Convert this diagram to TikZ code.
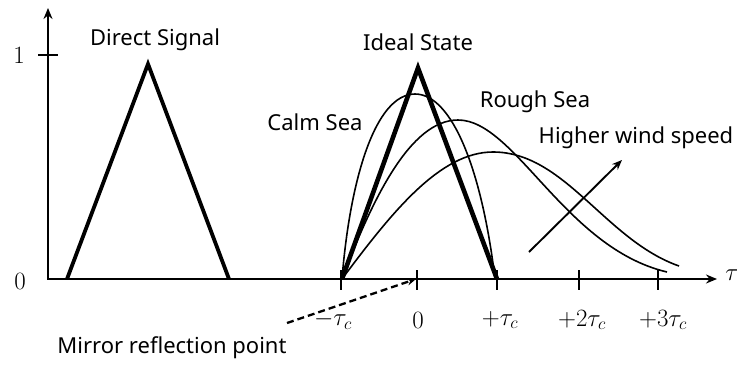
\documentclass[tikz,border=0pt]{standalone}
\usepackage{fontspec}
\newfontfamily\lab{Noto Sans}
\usetikzlibrary{arrows.meta}
\tikzset{
  axis/.style={line width=2.8pt,-{Stealth[length=11pt,width=9pt]}},
  tick/.style={line width=2pt},
  tri/.style={line width=3.8pt,line join=miter},
  ideal/.style={line width=4.6pt,line join=miter},
  curve/.style={line width=1.6pt},
  txt/.style={font=\lab\fontsize{22}{26}\selectfont,inner sep=0pt},
  mth/.style={font=\fontsize{26}{30}\selectfont,inner sep=0pt},
}
\begin{document}
\begin{tikzpicture}[x=1pt,y=-1pt]
\useasboundingbox (0,0) rectangle (737,365);
% axes
\coordinate (O) at (48,279);
\coordinate (ytop) at (48,8);
\coordinate (xend) at (717,279);
\draw[axis] (O) -- (ytop);
\draw[axis] (47,279) -- (xend);
\draw[tick] (38,55) -- (58,55);
\foreach \x in {341,417,497,579,658}{\draw[tick] (\x,270) -- (\x,290);}
% axis labels
\node[mth] (one) at (19,55) {$1$};
\node[mth] (zero) at (20,281) {$0$};
\node[mth] (tau) at (732,275) {$\tau$};
\node[mth] (lm) at (333,320) {$-\tau_c$};
\node[mth] (l0) at (418,320) {$0$};
\node[mth] (l1) at (500,320) {$+\tau_c$};
\node[mth] (l2) at (582,320) {$+2\tau_c$};
\node[mth] (l3) at (663,320) {$+3\tau_c$};
% direct signal
\draw[tri] (67,279) -- (148,64) -- (229,279);
% ideal state
\draw[ideal] (342,279) -- (418,68) -- (497,279);
% curves
\draw[curve] (342,279) .. controls (350,180) and (375,94) .. (415,94) .. controls (452,94) and (482,170) .. (495,279);
\draw[curve] (342,279) .. controls (372,200) and (410,120) .. (458,120) .. controls (515,120) and (565,248) .. (667,272);
\draw[curve] (342,279) .. controls (392,212) and (440,152) .. (493,152) .. controls (565,152) and (605,240) .. (679,266);
% wind arrow
\coordinate (wa) at (529,252);
\coordinate (wb) at (622,160);
\draw[line width=1.9pt,-{Stealth[length=10pt,width=8pt]}] (wa) -- (wb);
% mirror arrow
\coordinate (ma) at (287,323);
\coordinate (mb) at (416,279);
\draw[line width=2.3pt,dash pattern=on 7pt off 4pt,-{Stealth[length=9pt,width=7pt]}] (ma) -- (mb);
% texts
\node[txt] (ds) at (155,40) {Direct Signal};
\node[txt] (is) at (418,42) {Ideal State};
\node[txt] (cs) at (315,122) {Calm Sea};
\node[txt] (rs) at (535,102) {Rough Sea};
\node[txt] (hw) at (636,138) {Higher wind speed};
\node[txt] (mr) at (172,348) {Mirror reflection point};
\end{tikzpicture}
\end{document}
